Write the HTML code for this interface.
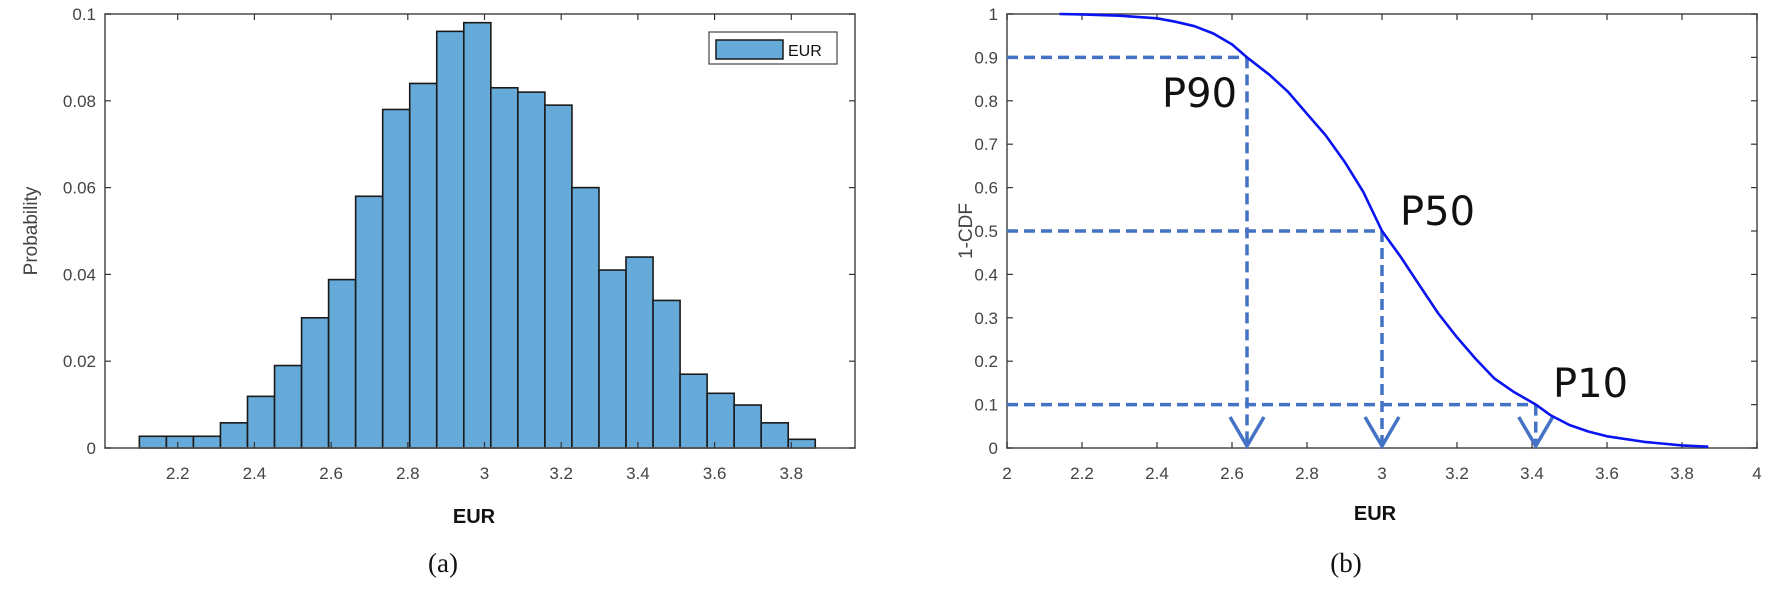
<!DOCTYPE html>
<html><head><meta charset="utf-8"><style>
html,body{margin:0;padding:0;background:#fff;}
svg{display:block;}
</style></head><body>
<svg id="fig" width="1770" height="598" viewBox="0 0 1770 598" xmlns="http://www.w3.org/2000/svg">
<g id="chartA"></g>
<g id="chartB"></g>
</svg>
<script>
// Chart (a) data
const binStart = 2.1;
const binWidth = 0.0705;
const probValues = [0.0027,0.0027,0.0027,0.0058,0.0119,0.019,0.030,0.0388,0.058,0.078,0.084,0.096,0.098,0.083,0.082,0.079,0.060,0.041,0.044,0.034,0.017,0.0126,0.0099,0.0058,0.002];
const xTicksA = [2.2,2.4,2.6,2.8,3,3.2,3.4,3.6,3.8];
const yTicksA = [0,0.02,0.04,0.06,0.08,0.1];
const yTickLabelsA = ["0","0.02","0.04","0.06","0.08","0.1"];
// Chart (b) data
const cdfX = [2.14,2.2,2.3,2.4,2.45,2.5,2.55,2.6,2.64,2.7,2.75,2.8,2.85,2.9,2.95,3.0,3.05,3.1,3.15,3.2,3.25,3.3,3.35,3.41,3.45,3.5,3.55,3.6,3.7,3.8,3.87];
const cdfY = [1.0,0.999,0.996,0.99,0.982,0.972,0.955,0.93,0.9,0.86,0.82,0.77,0.72,0.66,0.59,0.5,0.44,0.375,0.31,0.255,0.205,0.16,0.13,0.1,0.075,0.053,0.038,0.027,0.014,0.006,0.003];
const pctLabels = ["P90","P50","P10"];
const pctX = [2.64,3.0,3.41];
const pctY = [0.9,0.5,0.1];
const xTicksB = [2,2.2,2.4,2.6,2.8,3,3.2,3.4,3.6,3.8,4];
const xTickLabelsB = ["2","2.2","2.4","2.6","2.8","3","3.2","3.4","3.6","3.8","4"];
const yTicksB = [0,0.1,0.2,0.3,0.4,0.5,0.6,0.7,0.8,0.9,1];
const yTickLabelsB = ["0","0.1","0.2","0.3","0.4","0.5","0.6","0.7","0.8","0.9","1"];

const NS="http://www.w3.org/2000/svg";
function mk(parent,tag,attrs,text){const e=document.createElementNS(NS,tag);for(const k in attrs)e.setAttribute(k,attrs[k]);if(text!==undefined)e.textContent=text;parent.appendChild(e);return e;}

// ---------- Chart A ----------
const A=document.getElementById('chartA');
const aL=105,aR=855,aT=14,aB=448;
const xA=v=>101+(v-2)/0.2*76.7;
const yA=v=>aB-(v/0.1)*(aB-aT);
probValues.forEach((p,i)=>{
  const x0=xA(binStart+i*binWidth),x1=xA(binStart+(i+1)*binWidth);
  const r=mk(A,'rect',{x:x0,y:yA(p),width:x1-x0,height:aB-yA(p),fill:'#65aad8',stroke:'#1a1a1a','stroke-width':1.6});
  
  
});
const fa=mk(A,'rect',{x:aL,y:aT,width:aR-aL,height:aB-aT,fill:'none',stroke:'#555','stroke-width':1.6});


xTicksA.forEach(t=>{
  const x=xA(t);
  mk(A,'line',{x1:x,x2:x,y1:aB,y2:aB-6,stroke:'#333','stroke-width':1.2});
  mk(A,'line',{x1:x,x2:x,y1:aT,y2:aT+6,stroke:'#333','stroke-width':1.2});
  const tl=mk(A,'text',{x:x,y:479,'text-anchor':'middle','font-size':17,fill:'#444','font-family':'Liberation Sans, sans-serif'},String(t));
  
  
});
yTicksA.forEach((t,i)=>{
  const y=yA(t);
  mk(A,'line',{x1:aL,x2:aL+6,y1:y,y2:y,stroke:'#333','stroke-width':1.2});
  mk(A,'line',{x1:aR,x2:aR-6,y1:y,y2:y,stroke:'#333','stroke-width':1.2});
  const tl=mk(A,'text',{x:aL-9,y:y+6,'text-anchor':'end','font-size':17,fill:'#444','font-family':'Liberation Sans, sans-serif'},yTickLabelsA[i]);
  
  
});
const lg=mk(A,'g',{});


mk(lg,'rect',{x:709,y:32,width:128,height:32,fill:'#fff',stroke:'#444','stroke-width':1.2});
mk(lg,'rect',{x:716,y:40,width:67,height:19,fill:'#65aad8',stroke:'#1a1a1a','stroke-width':1.5});
const lt=mk(lg,'text',{x:788,y:56,'font-size':16,fill:'#111','font-family':'Liberation Sans, sans-serif'},'EUR');


const xa=mk(A,'text',{x:474,y:523,'text-anchor':'middle','font-size':20,'font-weight':'bold',fill:'#111','font-family':'Liberation Sans, sans-serif'},'EUR');


const ya=mk(A,'text',{x:0,y:0,'text-anchor':'middle','font-size':19,fill:'#444','font-family':'Liberation Sans, sans-serif',transform:'translate(37,231) rotate(-90)'},'Probability');


const ca=mk(A,'text',{x:443,y:572,'text-anchor':'middle','font-size':27,fill:'#111','font-family':'Liberation Serif, serif'},'(a)');



// ---------- Chart B ----------
const B=document.getElementById('chartB');
const bL=1007,bR=1757,bT=14,bB=448;
const xB=v=>bL+(v-2)/2*(bR-bL);
const yB=v=>bB-v*(bB-bT);
const fb=mk(B,'rect',{x:bL,y:bT,width:bR-bL,height:bB-bT,fill:'none',stroke:'#555','stroke-width':1.6});


xTicksB.forEach((t,i)=>{
  const x=xB(t);
  mk(B,'line',{x1:x,x2:x,y1:bB,y2:bB-6,stroke:'#333','stroke-width':1.2});
  mk(B,'line',{x1:x,x2:x,y1:bT,y2:bT+6,stroke:'#333','stroke-width':1.2});
  const tl=mk(B,'text',{x:x,y:479,'text-anchor':'middle','font-size':17,fill:'#444','font-family':'Liberation Sans, sans-serif'},xTickLabelsB[i]);
  
  
});
yTicksB.forEach((t,i)=>{
  const y=yB(t);
  mk(B,'line',{x1:bL,x2:bL+6,y1:y,y2:y,stroke:'#333','stroke-width':1.2});
  mk(B,'line',{x1:bR,x2:bR-6,y1:y,y2:y,stroke:'#333','stroke-width':1.2});
  const tl=mk(B,'text',{x:bL-9,y:y+6,'text-anchor':'end','font-size':17,fill:'#444','font-family':'Liberation Sans, sans-serif'},yTickLabelsB[i]);
  
  
});
// percentile guides
pctX.forEach((px,i)=>{
  const x=xB(px),y=yB(pctY[i]);
  const g=mk(B,'g',{});
  
  
  mk(g,'line',{x1:bL,x2:x,y1:y,y2:y,stroke:'#4472c4','stroke-width':3.5,'stroke-dasharray':'11 6'});
  mk(g,'line',{x1:x,x2:x,y1:y,y2:bB-3,stroke:'#4472c4','stroke-width':3.5,'stroke-dasharray':'11 6'});
  mk(g,'polyline',{points:`${x-17},${bB-31} ${x},${bB-2} ${x+17},${bB-31}`,fill:'none',stroke:'#4472c4','stroke-width':3.5});
});
// curve
let d='';
cdfX.forEach((v,i)=>{d+=(i?'L':'M')+xB(v).toFixed(1)+','+yB(cdfY[i]).toFixed(1);});
const cv=mk(B,'path',{d:d,fill:'none',stroke:'#0a14f0','stroke-width':2.6,'stroke-linejoin':'round'});


// labels
const lblPos=[[1162,107],[1400,225],[1553,397]];
pctLabels.forEach((s,i)=>{
  const t=mk(B,'text',{x:lblPos[i][0],y:lblPos[i][1],'font-size':40,fill:'#111','font-family':'DejaVu Sans, Liberation Sans, sans-serif'},s);
  
  
});
const xb=mk(B,'text',{x:1375,y:520,'text-anchor':'middle','font-size':20,'font-weight':'bold',fill:'#111','font-family':'Liberation Sans, sans-serif'},'EUR');


const yb=mk(B,'text',{x:0,y:0,'text-anchor':'middle','font-size':19,fill:'#444','font-family':'Liberation Sans, sans-serif',transform:'translate(972,231) rotate(-90)'},'1-CDF');


const cb=mk(B,'text',{x:1346,y:572,'text-anchor':'middle','font-size':27,fill:'#111','font-family':'Liberation Serif, serif'},'(b)');


</script>
</body></html>
